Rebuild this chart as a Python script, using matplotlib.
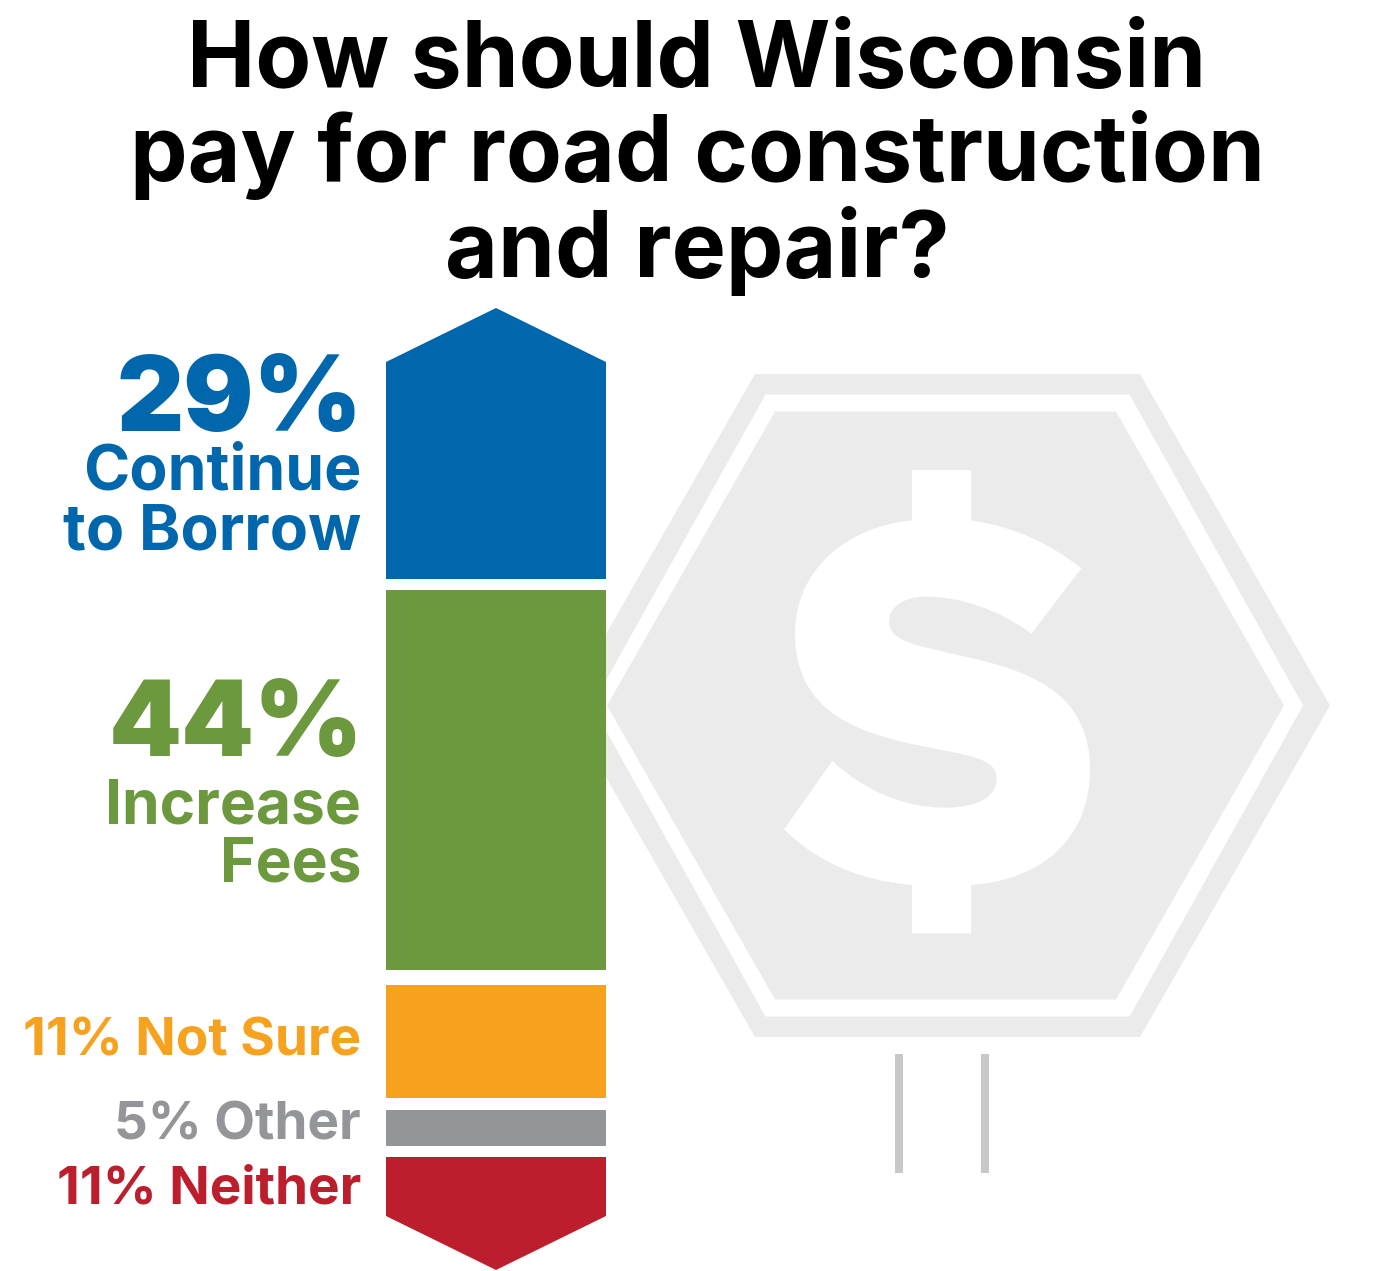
import matplotlib
matplotlib.use("Agg")
import numpy as np
import matplotlib.pyplot as plt
from matplotlib.patches import Polygon, Rectangle, PathPatch
from matplotlib.path import Path

# survey results
pct_labels = ["29%", "44%", "11%", "5%", "11%"]
categories = ["Continue\nto Borrow", "Increase\nFees", "Not Sure", "Other", "Neither"]
colors = ["#0067AC", "#6C983E", "#F7A21F", "#939598", "#BC1E2D"]
# segment heights (image pixels, arrow tips included)
seg_heights = [271, 380, 113, 36, 113]
seg_gaps = [11, 15, 12, 11]

title = "How should Wisconsin\npay for road construction\nand repair?"

fig = plt.figure(figsize=(13.94, 12.71), dpi=100)
ax = fig.add_axes([0, 0, 1, 1])
ax.set_xlim(0, 1394)
ax.set_ylim(1271, 0)
ax.axis("off")

FONT = "Inter"

for line, base in zip(title.split("\n"), [87, 181, 277]):
    ax.text(697, base, line, ha="center", va="baseline", fontsize=65.8, family=FONT,
            fontweight="bold", color="black")

# road sign in the background
def hexagon(cx, cy, half_w, half_h, corner):
    return [(cx - corner, cy - half_h), (cx + corner, cy - half_h), (cx + half_w, cy),
            (cx + corner, cy + half_h), (cx - corner, cy + half_h), (cx - half_w, cy)]

ax.add_patch(Polygon(hexagon(947.5, 705.5, 382.5, 331.5, 192.5), color="#EBEBEB", lw=0))
ax.add_patch(Polygon(hexagon(947.5, 705.5, 355.5, 311, 182), color="white", lw=0))
ax.add_patch(Polygon(hexagon(945.5, 705.5, 338.5, 294, 170.5), color="#EBEBEB", lw=0))

# dollar icon outline, traced at 3x
M, L, C = Path.MOVETO, Path.LINETO, Path.CURVE4
dollar = [
    (M, (426, 30)), (L, (603, 30)), (L, (603, 181)),
    (C, (730, 200)), (C, (840, 250)), (C, (934, 325)),
    (L, (784, 521)),
    (C, (690, 450)), (C, (570, 410)), (C, (470, 410)),
    (C, (400, 410)), (C, (357, 440)), (C, (357, 485)),
    (C, (357, 535)), (C, (420, 552)), (C, (500, 570)),
    (C, (700, 618)), (C, (960, 650)), (C, (960, 930)),
    (C, (960, 1130)), (C, (820, 1260)), (C, (603, 1275)),
    (L, (603, 1420)), (L, (426, 1420)), (L, (426, 1275)),
    (C, (270, 1262)), (C, (140, 1205)), (C, (42, 1108)),
    (L, (187, 903)),
    (C, (280, 990)), (C, (400, 1043)), (C, (525, 1043)),
    (C, (625, 1043)), (C, (680, 1010)), (C, (680, 955)),
    (C, (680, 905)), (C, (620, 890)), (C, (540, 875)),
    (C, (340, 835)), (C, (75, 800)), (C, (75, 520)),
    (C, (75, 330)), (C, (230, 200)), (C, (426, 181)),
    (L, (426, 30)),
]
codes = [c for c, _ in dollar]
verts = np.array([p for _, p in dollar]) / 3 + [770, 460]
ax.add_patch(PathPatch(Path(verts, codes), facecolor="white", lw=0))

for px in [899, 985]:
    ax.add_patch(Rectangle((px - 4, 1054), 8, 119, color="#C8C8C8", lw=0))

# stacked bar
left, right = 386, 606
mid = (left + right) / 2
tip = 54
tops = 308 + np.cumsum([0] + [h + g for h, g in zip(seg_heights[:-1], seg_gaps)])
for i, (top, h, c) in enumerate(zip(tops, seg_heights, colors)):
    bottom = top + h
    if i == 0:
        pts = [(mid, top), (right, top + tip), (right, bottom), (left, bottom), (left, top + tip)]
    elif i == len(seg_heights) - 1:
        pts = [(left, top), (right, top), (right, bottom - tip), (mid, bottom), (left, bottom - tip)]
    else:
        pts = [(left, top), (right, top), (right, bottom), (left, bottom)]
    ax.add_patch(Polygon(pts, color=c, lw=0))

# labels
lx = 361
big = dict(ha="right", va="baseline", family=FONT, fontweight="black", fontsize=75)
one_line = dict(ha="right", va="baseline", family=FONT, fontweight="bold", fontsize=38.2)
text_opts = dict(ha="right", va="baseline", family=FONT, fontweight="bold")
cont, borrow = categories[0].split("\n")
incr, fees = categories[1].split("\n")
ax.text(lx + 2, 431, pct_labels[0], color=colors[0], **big)
ax.text(lx, 490, cont, color=colors[0], fontsize=45, **text_opts)
ax.text(lx, 549, borrow, color=colors[0], fontsize=45, **text_opts)
ax.text(lx + 2, 756, pct_labels[1], color=colors[1], **big)
ax.text(lx, 823, incr, color=colors[1], fontsize=43.6, **text_opts)
ax.text(lx, 881, fees, color=colors[1], fontsize=43.6, **text_opts)
ax.text(lx, 1055, f"{pct_labels[2]} {categories[2]}", color=colors[2], **one_line)
ax.text(lx, 1139, f"{pct_labels[3]} {categories[3]}", color=colors[3], **one_line)
ax.text(lx, 1203, f"{pct_labels[4]} {categories[4]}", color=colors[4], **one_line)

fig.savefig("out.png", dpi=100)
